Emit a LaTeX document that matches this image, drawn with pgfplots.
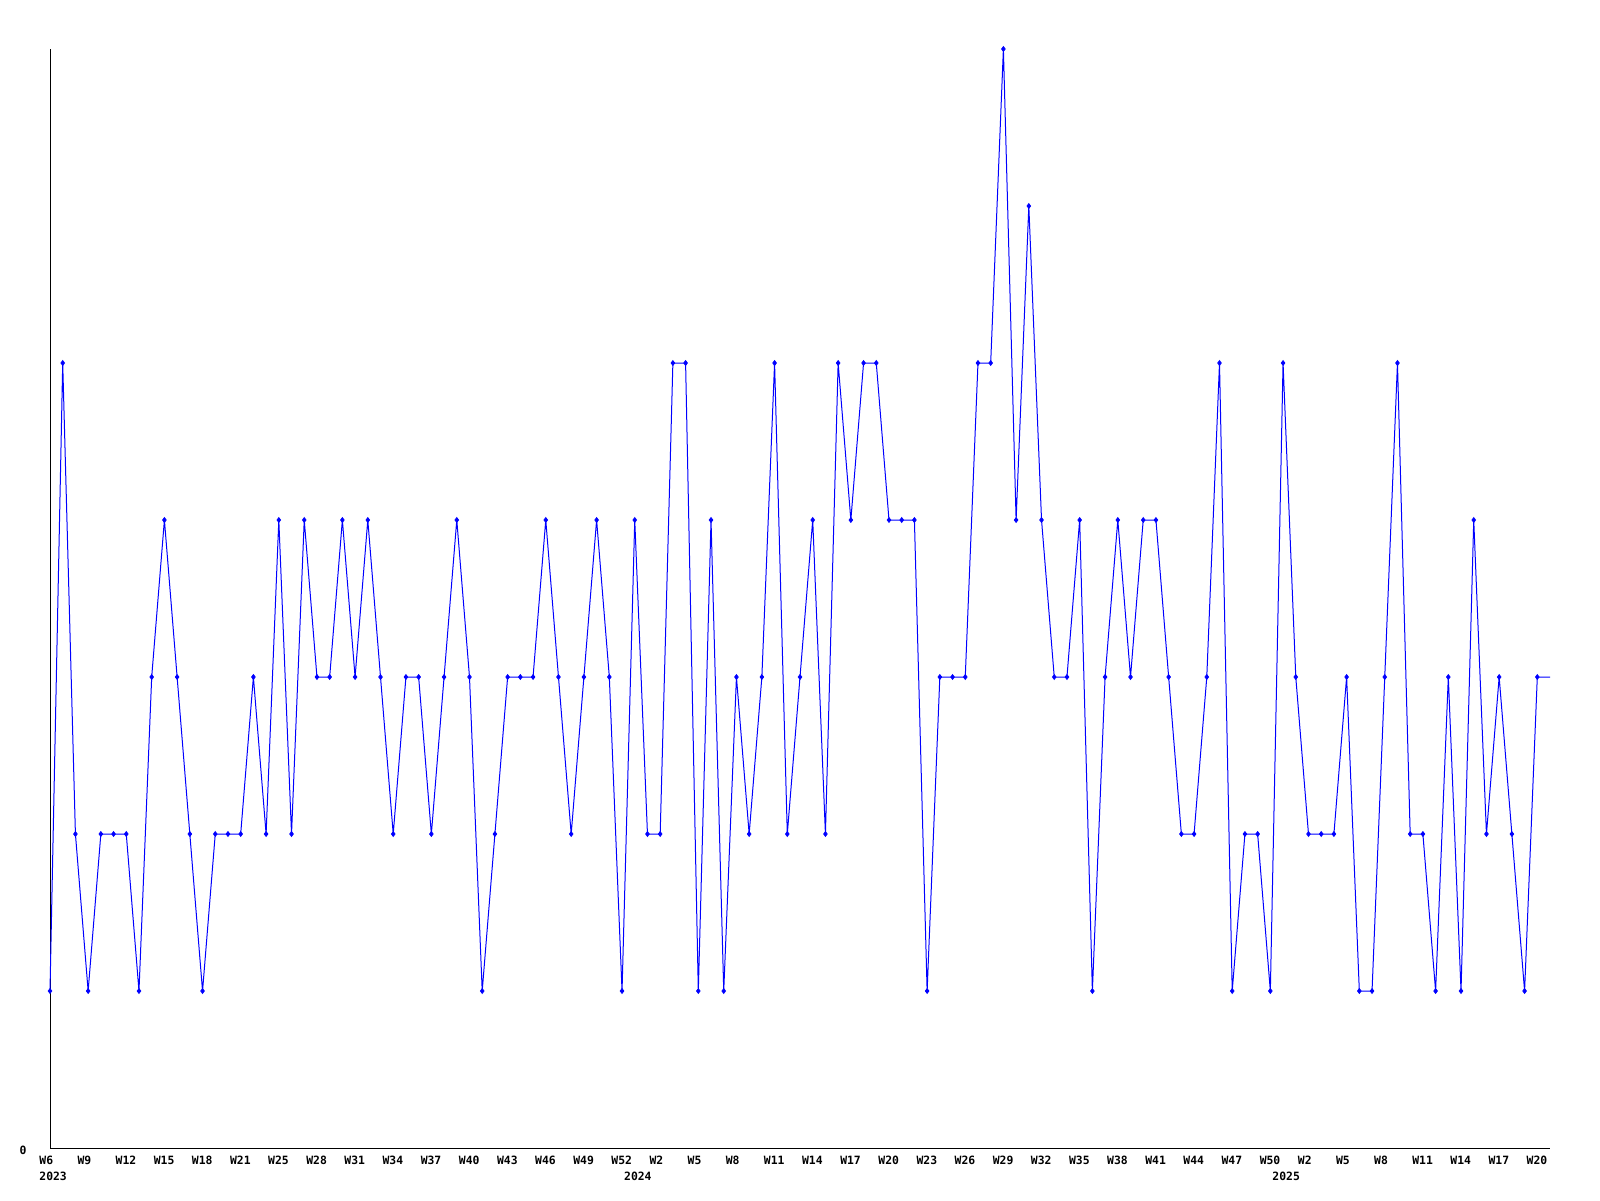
\documentclass[border=0pt]{standalone}
\usepackage{pgfplots}
\usepackage{pgfplotstable}
\pgfplotsset{compat=1.18}
\usepackage{fontspec}
\setmonofont{DejaVu Sans Mono}
\pgfplotstableread{
x y
0 1
1 5
2 2
3 1
4 2
5 2
6 2
7 1
8 3
9 4
10 3
11 2
12 1
13 2
14 2
15 2
16 3
17 2
18 4
19 2
20 4
21 3
22 3
23 4
24 3
25 4
26 3
27 2
28 3
29 3
30 2
31 3
32 4
33 3
34 1
35 2
36 3
37 3
38 3
39 4
40 3
41 2
42 3
43 4
44 3
45 1
46 4
47 2
48 2
49 5
50 5
51 1
52 4
53 1
54 3
55 2
56 3
57 5
58 2
59 3
60 4
61 2
62 5
63 4
64 5
65 5
66 4
67 4
68 4
69 1
70 3
71 3
72 3
73 5
74 5
75 7
76 4
77 6
78 4
79 3
80 3
81 4
82 1
83 3
84 4
85 3
86 4
87 4
88 3
89 2
90 2
91 3
92 5
93 1
94 2
95 2
96 1
97 5
98 3
99 2
100 2
101 2
102 3
103 1
104 1
105 3
106 5
107 2
108 2
109 1
110 3
111 1
112 4
113 2
114 3
115 2
116 1
117 3
118 3
}\data
\begin{document}
\begin{tikzpicture}
\path[use as bounding box] (0pt,0pt) rectangle (800pt,600pt);
\begin{axis}[
  at={(25pt,26pt)}, anchor=south west,
  scale only axis, width=750pt, height=549.5pt,
  xmin=0, xmax=118, ymin=0, ymax=7,
  axis x line*=bottom, axis y line*=left,
  axis line style={black, line width=0.5pt},
  clip=false,
  major tick length=0pt,
  tick style={draw=none},
  /pgf/number format/assume math mode=true,
  xtick={0,3,...,117},
  xticklabels={W6,W9,W12,W15,W18,W21,W25,W28,W31,W34,W37,W40,W43,W46,W49,W52,W2,W5,W8,W11,W14,W17,W20,W23,W26,W29,W32,W35,W38,W41,W44,W47,W50,W2,W5,W8,W11,W14,W17,W20},
  extra x ticks={0,46,97},
  extra x tick labels={2023,2024,2025},
  extra x tick style={xticklabel style={yshift=-8pt}},
  xticklabel style={anchor=north west, inner sep=0pt, xshift=-5.5pt, yshift=-4pt, font=\fontsize{5.7}{6}\selectfont\ttfamily\bfseries},
  ytick={0},
  yticklabels={0},
  yticklabel style={anchor=center, inner sep=0pt, xshift=-13.5pt, yshift=-1pt, font=\fontsize{5.7}{6}\selectfont\ttfamily\bfseries},
]
\addplot[blue, line width=0.5pt, no marks] table[x=x,y=y] {\data};
\addplot[blue, only marks, mark=diamond*, mark size=1.2pt, restrict x to domain=0:117] table[x=x,y=y] {\data};
\end{axis}
\end{tikzpicture}
\end{document}
